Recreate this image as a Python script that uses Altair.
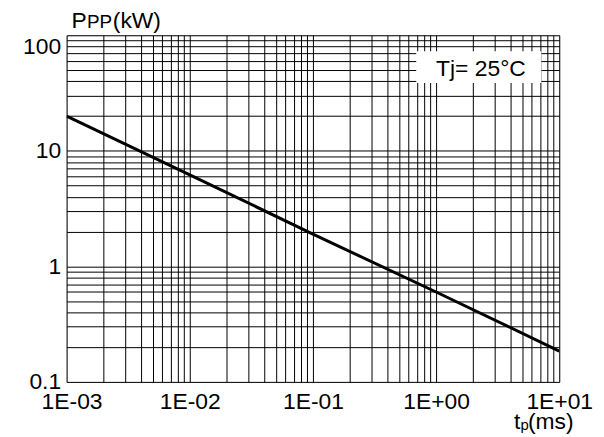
import altair as alt
import pandas as pd

FONT = "Liberation Sans"

# Line data (log-log straight line)
tp_ms = [0.001, 0.01, 0.1, 1, 10]
ppp_kw = [20.0, 6.2, 1.9, 0.6, 0.185]

# Axis decades and labels
x_decades = [0.001, 0.01, 0.1, 1, 10]
x_labels = ["1E-03", "1E-02", "1E-01", "1E+00", "1E+01"]
y_decades = [0.1, 1, 10, 100]
y_labels = ["0.1", "1", "10", "100"]
minor_steps = [1, 2, 3, 4, 5, 6, 7, 8, 9]

x_grid = [m * d for d in x_decades[:-1] for m in minor_steps] + [x_decades[-1]]
y_grid = [m * d for d in y_decades[:-1] for m in minor_steps] + [y_decades[-1]]


def label_expr(decs, labs):
    expr = "''"
    for d, l in reversed(list(zip(decs, labs))):
        expr = f"abs(datum.value - {d}) < {d * 1e-6} ? '{l}' : ({expr})"
    return expr


df = pd.DataFrame({"tp": tp_ms, "ppp": ppp_kw})

x_axis = alt.Axis(
    values=x_grid, labelExpr=label_expr(x_decades, x_labels), grid=True,
    gridColor="black", gridWidth=1, gridOpacity=1, ticks=False, tickSize=0,
    domain=False, title=None, labelFontSize=23, labelFont=FONT, labelColor="black",
    labelPadding=9, labelFlush=False, labelOverlap=False, labelBound=False,
    labelOffset={"condition": {"test": "datum.value < 0.0015", "value": 5}, "value": 0},
)
y_axis = alt.Axis(
    values=y_grid, labelExpr=label_expr(y_decades, y_labels), grid=True,
    gridColor="black", gridWidth=1, gridOpacity=1, ticks=False, tickSize=0,
    domain=False, title=None, labelFontSize=23, labelFont=FONT, labelColor="black",
    labelPadding=6, labelFlush=False, labelOverlap=False, labelBound=False,
    labelBaseline={"condition": {"test": "datum.value > 50", "value": "top"}, "value": "middle"},
)

line = alt.Chart(df).mark_line(color="black", strokeWidth=3, clip=True).encode(
    x=alt.X("tp:Q", scale=alt.Scale(type="log", domain=[0.001, 10], nice=False), axis=x_axis),
    y=alt.Y("ppp:Q", scale=alt.Scale(type="log", domain=[0.1, 100], nice=False), axis=y_axis),
)

one = pd.DataFrame({"a": [0]})
box = alt.Chart(one).mark_rect(fill="white", stroke=None).encode(
    x=alt.value(352), x2=alt.value(478), y=alt.value(16), y2=alt.value(48)
)


def txt(text, x, y, size, align="left", baseline="alphabetic"):
    return alt.Chart(pd.DataFrame({"t": [text]})).mark_text(
        align=align, baseline=baseline, fontSize=size, font=FONT, color="black"
    ).encode(x=alt.value(x), y=alt.value(y), text="t:N")


texts = [
    txt("Tj= 25°C", 372, 41, 23),
    txt("P", 5, -7, 23),
    txt("PP", 20.5, -7, 19),
    txt("(kW)", 46.5, -7, 23),
    txt("t", 450.5, 396, 23),
    txt("p", 457, 397, 15),
    txt("(ms)", 464.5, 396, 23),
]

chart = alt.layer(line, box, *texts).properties(
    width=496, height=349, autosize="none",
    padding={"left": 59, "top": 26, "right": 37, "bottom": 52},
).configure_view(stroke="black", strokeWidth=2.5).configure(background="white")

chart.save("out.html", embed_options={"renderer": "svg", "actions": False})
